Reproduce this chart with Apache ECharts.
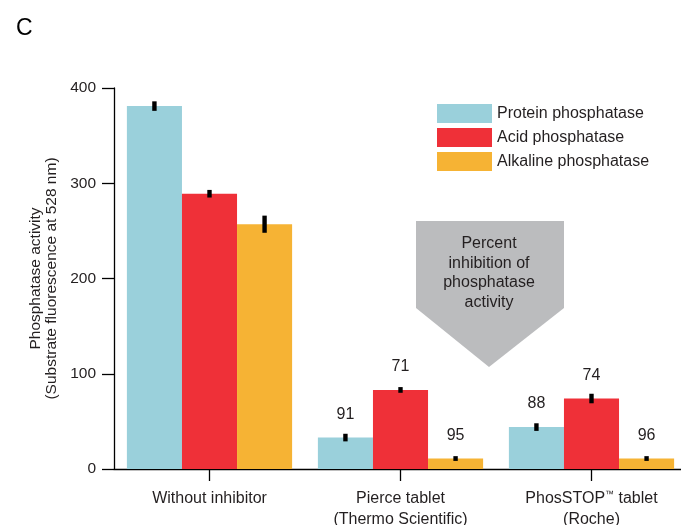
<!DOCTYPE html>
<html>
<head>
<meta charset="utf-8">
<script src="https://cdn.jsdelivr.net/npm/echarts@6/dist/echarts.min.js"></script>
<style>
  html, body { margin: 0; padding: 0; background: #fff; }
  #chart { width: 681px; height: 525px; }
</style>
</head>
<body>
<div id="chart"></div>
<script>
// categories and series
const categories = ['Without inhibitor', 'Pierce tablet\n(Thermo Scientific)', 'PhosSTOP\u2122 tablet\n(Roche)']
const seriesNames = ['Protein phosphatase', 'Acid phosphatase', 'Alkaline phosphatase']
const seriesColors = ['#9ad0db', '#ef3038', '#f6b334']

// activity values (substrate fluorescence)
const protein = [381, 33, 44]
const acid = [289, 83, 74]
const alkaline = [257, 11, 11]

// error half-widths
const proteinErr = [5, 4, 4]
const acidErr = [4, 3, 5]
const alkalineErr = [9, 2.5, 2.5]

// percent inhibition labels shown above bars
const proteinPct = ['', '91', '88']
const acidPct = ['', '71', '74']
const alkalinePct = ['', '95', '96']

const yTicks = [0, 100, 200, 300, 400]

const values = [protein, acid, alkaline]
const errs = [proteinErr, acidErr, alkalineErr]
const pcts = [proteinPct, acidPct, alkalinePct]

const FONT = '"Liberation Sans", Arial, sans-serif'
const TEXT = '#231f20'
const catGap = 0.135

let chart = echarts.init(document.getElementById('chart'))

let series = []
values.forEach((vals, i) => {
  series.push({
    name: seriesNames[i],
    type: 'bar',
    barGap: 0,
    barCategoryGap: (catGap * 100) + '%',
    itemStyle: { color: seriesColors[i] },
    label: {
      show: true,
      position: 'top',
      distance: 15,
      fontFamily: FONT,
      fontSize: 16,
      color: TEXT,
      formatter: p => pcts[i][p.dataIndex]
    },
    data: vals
  })
})

// error bars, one custom series per bar series
values.forEach((vals, i) => {
  series.push({
    type: 'custom',
    silent: true,
    z: 5,
    encode: { x: 0, y: 1 },
    data: vals.map((v, k) => [k, v, errs[i][k]]),
    renderItem: (params, api) => {
      let band = api.size([1, 0])[0]
      let bw = band * (1 - catGap) / 3
      let c = api.coord([api.value(0), api.value(1)])
      let hi = api.coord([api.value(0), api.value(1) + api.value(2)])
      let lo = api.coord([api.value(0), api.value(1) - api.value(2)])
      let x = c[0] + (i - 1) * bw
      return {
        type: 'rect',
        shape: { x: x - 2.2, y: hi[1], width: 4.4, height: lo[1] - hi[1] },
        style: { fill: '#000' }
      }
    }
  })
})

chart.setOption({
  animation: false,
  title: {
    text: 'C',
    left: 11,
    top: 12,
    textStyle: { fontFamily: FONT, fontSize: 23, fontWeight: 'normal', color: '#000' }
  },
  legend: {
    orient: 'vertical',
    left: 432,
    top: 99,
    itemWidth: 55,
    itemHeight: 19,
    itemGap: 5,
    icon: 'rect',
    data: seriesNames,
    textStyle: { fontFamily: FONT, fontSize: 16, color: TEXT }
  },
  grid: { left: 114, right: -6, top: 88, bottom: 56, outerBoundsMode: 'none' },
  xAxis: {
    type: 'category',
    data: categories,
    axisLine: { lineStyle: { color: '#000', width: 1.3 } },
    axisTick: { show: true, interval: 0, length: 12, alignWithLabel: true, lineStyle: { color: '#000', width: 1.3 } },
    axisLabel: {
      interval: 0,
      hideOverlap: false,
      margin: 19,
      fontFamily: FONT,
      fontSize: 16,
      color: TEXT,
      lineHeight: 21,
      formatter: v => v.split('\n').map(s => s.replace('\u2122', '{tm|\u2122}')).join('\n'),
      rich: {
        tm: { fontFamily: FONT, fontSize: 9, color: TEXT, verticalAlign: 'top', lineHeight: 21, padding: [2, 0, 0, 0] }
      }
    }
  },
  yAxis: {
    type: 'value',
    min: yTicks[0],
    max: yTicks[yTicks.length - 1],
    interval: 100,
    name: 'Phosphatase activity\n(Substrate fluorescence at 528 nm)',
    nameLocation: 'middle',
    nameGap: 48,
    nameTextStyle: { fontFamily: FONT, fontSize: 15.5, color: TEXT, lineHeight: 15.5 },
    splitLine: { show: false },
    axisLine: { show: true, lineStyle: { color: '#000', width: 1.3 } },
    axisTick: { show: true, length: 12, lineStyle: { color: '#000', width: 1.3 } },
    axisLabel: { margin: 18, fontFamily: FONT, fontSize: 15.5, color: TEXT }
  },
  graphic: [
    {
      type: 'polygon',
      z: 0,
      shape: { points: [[416, 221], [564, 221], [564, 308], [489, 367], [416, 308]] },
      style: { fill: '#bbbcbe' }
    },
    {
      type: 'text',
      z: 1,
      x: 489,
      y: 273,
      style: {
        text: 'Percent\ninhibition of\nphosphatase\nactivity',
        fontFamily: FONT,
        fontSize: 16,
        lineHeight: 19.5,
        fill: TEXT,
        align: 'center',
        verticalAlign: 'middle'
      }
    }
  ],
  series: series
})
</script>
</body>
</html>
